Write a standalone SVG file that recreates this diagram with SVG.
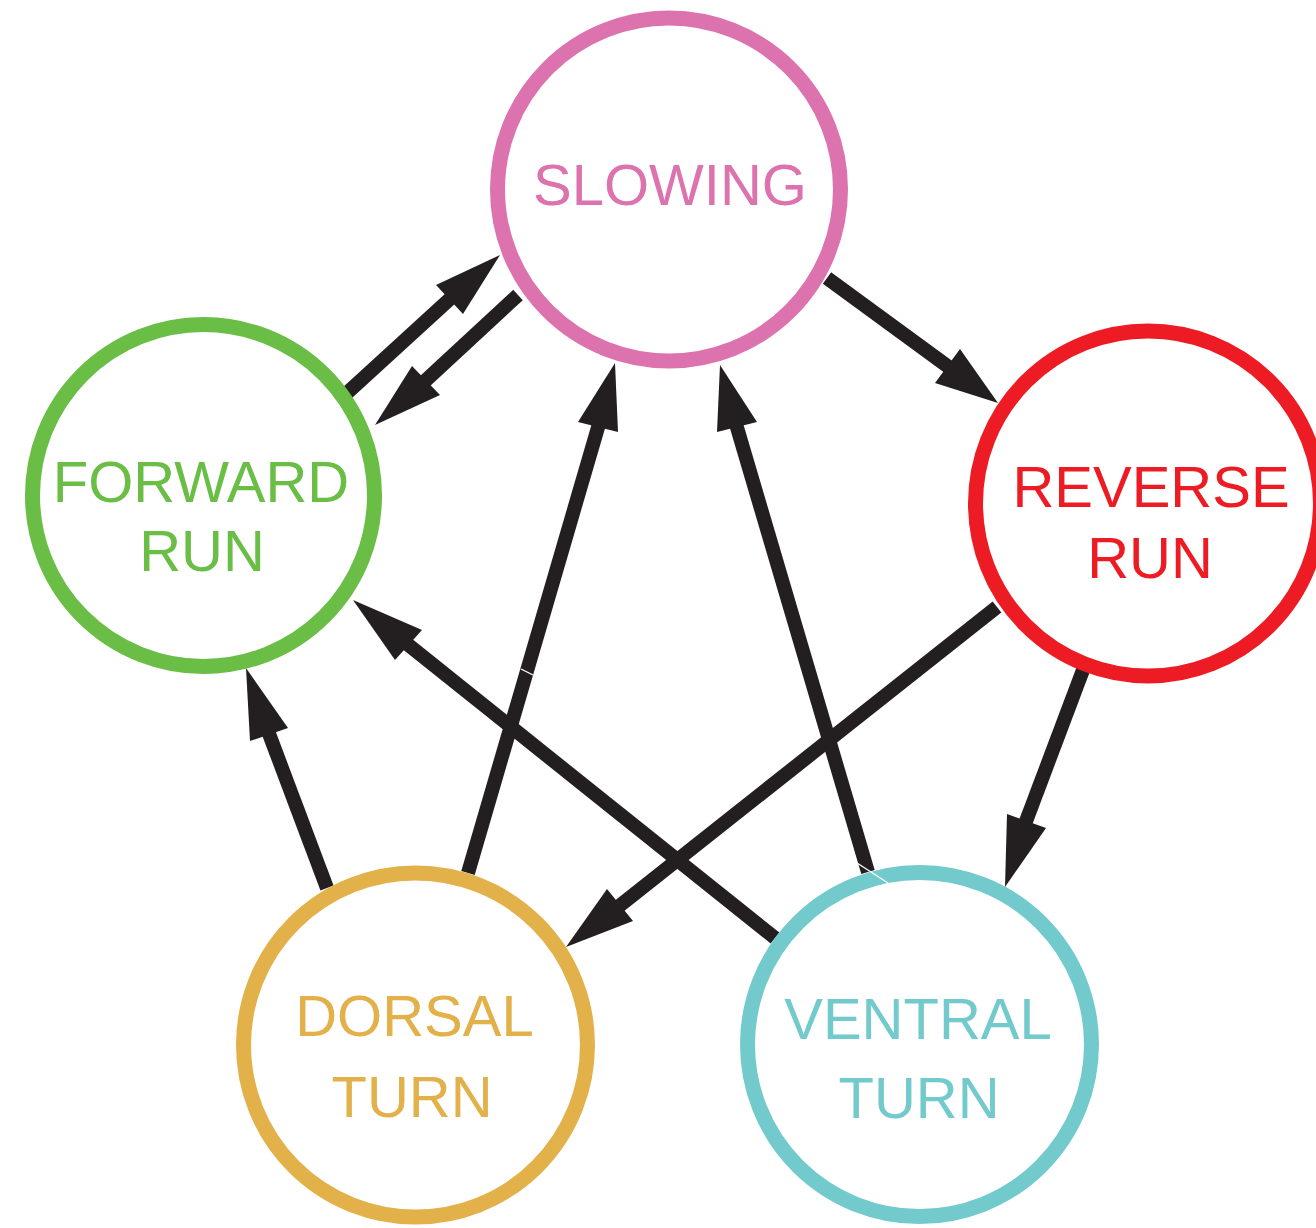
<svg xmlns="http://www.w3.org/2000/svg" width="1316" height="1228" viewBox="0 0 1316 1228">
<style>
.edge{stroke:#231f20;stroke-width:14;fill:none;stroke-linecap:butt}
.head{fill:#231f20;stroke:none}
.node{fill:#ffffff;stroke-width:15}
.lbl{font-family:"Liberation Sans",Arial,Helvetica,sans-serif;font-size:58px;text-anchor:middle}
.seam{stroke:#ffffff;stroke-width:1.3;fill:none}
</style>
<rect width="1316" height="1228" fill="#ffffff"/>
<g id="connectors">
<line class="edge" x1="347" y1="393" x2="452" y2="297"/>
<polygon class="head" points="500,255 436,285 463,314"/>
<line class="edge" x1="518" y1="295" x2="424" y2="382"/>
<polygon class="head" points="375,425 412,366 440,395"/>
<line class="edge" x1="827" y1="278" x2="950" y2="368"/>
<polygon class="head" points="998,403 960,349 935,383"/>
<line class="edge" x1="997" y1="607" x2="618" y2="907"/>
<polygon class="head" points="566,947 607,889 633,921"/>
<line class="edge" x1="1083" y1="670" x2="1025" y2="824"/>
<polygon class="head" points="1005,887 1007,814 1046,828"/>
<line class="edge" x1="775" y1="938" x2="406" y2="643"/>
<polygon class="head" points="353,600 422,630 395,660"/>
<line class="edge" x1="327" y1="888" x2="268" y2="731"/>
<polygon class="head" points="246,668 250,741 288,728"/>
<line class="edge" x1="468" y1="873" x2="599" y2="424"/>
<polygon class="head" points="615,363 578,422 618,432"/>
<line class="edge" x1="868" y1="872" x2="736" y2="424"/>
<polygon class="head" points="720,365 717,432 757,422"/>
</g>
<g id="slowing">
<circle class="node" cx="669" cy="189.5" r="171.5" stroke="#dc72ae"/>
<text class="lbl" x="670" y="205" fill="#dc72ae">SLOWING</text>
</g>
<g id="forward-run">
<circle class="node" cx="203.5" cy="495.5" r="171" stroke="#6abd45"/>
<text class="lbl" x="201" y="502" fill="#6abd45">FORWARD</text>
<text class="lbl" x="202" y="571" fill="#6abd45">RUN</text>
</g>
<g id="reverse-run">
<circle class="node" cx="1148" cy="503.5" r="172.5" stroke="#ed1c24"/>
<text class="lbl" x="1151" y="507" fill="#ed1c24">REVERSE</text>
<text class="lbl" x="1150" y="578" fill="#ed1c24">RUN</text>
</g>
<g id="dorsal-turn">
<circle class="node" cx="415.5" cy="1045" r="172" stroke="#e2b14a"/>
<text class="lbl" x="414.5" y="1036" fill="#e2b14a">DORSAL</text>
<text class="lbl" x="412" y="1117" fill="#e2b14a">TURN</text>
</g>
<g id="ventral-turn">
<circle class="node" cx="919.5" cy="1044.5" r="172" stroke="#72cacd"/>
<text class="lbl" x="918" y="1039" fill="#72cacd">VENTRAL</text>
<text class="lbl" x="919" y="1118" fill="#72cacd">TURN</text>
</g>
<g id="seams">
<line class="seam" x1="521" y1="669" x2="533" y2="675"/>
<line class="seam" x1="857" y1="863" x2="888" y2="883"/>
</g>
</svg>
